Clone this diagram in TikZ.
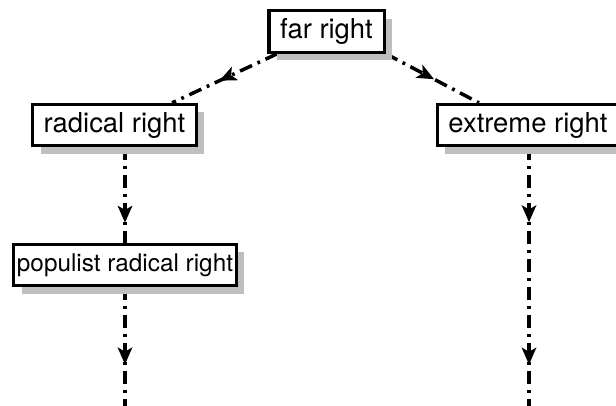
\documentclass[tikz,border=0pt]{standalone}
\usepackage{fontspec}
\setmainfont{TeX Gyre Heros}
\usetikzlibrary{arrows.meta,decorations.markings,shadows,backgrounds,calc}

\tikzset{
  termbox/.style={draw, line width=2.2pt, fill=white, inner xsep=0.28cm, inner ysep=0pt,
    minimum height=1.03cm, font=\fontsize{19.5}{22}\selectfont,
    drop shadow={shadow xshift=0.2cm, shadow yshift=-0.2cm, fill=black!25, opacity=1}},
  dashdot/.style={line width=2.5pt, dash pattern=on 0.33cm off 0.15cm on 0.07cm off 0.15cm},
  tipat/.style={postaction={decorate, decoration={markings,
    mark=at position #1 with {\arrow{Stealth[length=0.42cm,width=0.36cm,inset=0.1cm]}}}}}
}

\begin{document}
\begin{tikzpicture}[x=0.025cm, y=-0.025cm]
  \useasboundingbox (0,0) rectangle (616,406);
  \node[termbox] (far) at (326.5,31.5) {far right};
  \node[termbox] (rad) at (114.5,125) {radical right};
  \node[termbox] (ext) at (528,125) {extreme right};
  \node[termbox, inner xsep=0.085cm, font=\fontsize{17.3}{20}\selectfont] (pop) at (125,265) {populist radical right};
  \coordinate (lend) at (125,406);
  \coordinate (rend) at (529,406);

  \begin{scope}[on background layer]
    \draw[dashdot, tipat=0.55] ([xshift=0.25cm]far.south west) -- ([xshift=-0.65cm]rad.north east);
    \draw[dashdot, tipat=0.52] (far.south east) -- ([xshift=1.08cm]ext.north west);
    \draw[dashdot, tipat=0.79] (rad.south -| pop.north) -- (pop.north);
    \draw[dashdot, tipat=0.65] (pop.south) -- (lend);
    \draw[dashdot, tipat=0.29, tipat=0.84] (ext.south -| rend) -- (rend);
  \end{scope}
\end{tikzpicture}
\end{document}
